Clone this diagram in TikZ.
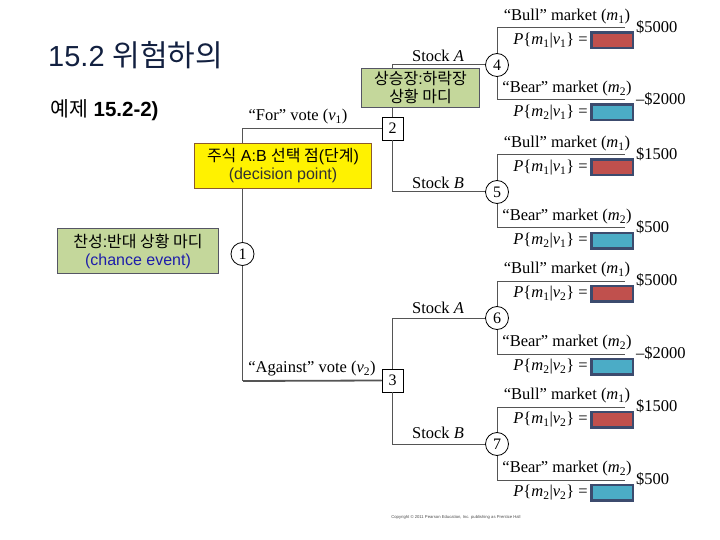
\documentclass[tikz,border=0pt]{standalone}
\usepackage{fontspec}
\setmainfont{Liberation Serif}
\setsansfont{Liberation Sans}
\newfontfamily\kr{Noto Sans CJK KR}

\definecolor{navy}{RGB}{18,32,64}
\definecolor{treeline}{RGB}{85,85,85}
\definecolor{gfill}{RGB}{196,215,155}
\definecolor{gdraw}{RGB}{85,85,100}
\definecolor{ydraw}{RGB}{140,90,45}
\definecolor{rfill}{RGB}{192,80,77}
\definecolor{bfill}{RGB}{75,172,198}
\definecolor{bdraw}{RGB}{60,75,110}
\definecolor{ceblue}{RGB}{30,30,170}

\newcommand\Pm[2]{\textit{P}\{\textit{m}\textsubscript{#1}|\textit{v}\textsubscript{#2}\} =}
\newcommand\Bull{“Bull” market (\textit{m}\textsubscript{1})}
\newcommand\Bear{“Bear” market (\textit{m}\textsubscript{2})}

% #1 name, #2 start anchor, #3 line y, #4 label, #5 P text, #6 fill, #7 value
\newcommand\mkout[7]{%
  \coordinate (#1e) at (625,#3);
  \draw[tree] (#2) |- (#1e);
  \node[lab] (#1l) at (567,#3-11.5) {#4};
  \node[lab, anchor=east] (#1p) at (588,#3+12.5) {#5};
  \node[pbox, fill=#6, anchor=west] (#1b) at (590,#3+12.5) {};
  \node[lab, anchor=west] (#1v) at (636,#3-1) {#7};
}

\tikzset{
  tree/.style={draw=treeline, line width=1pt},
  chance/.style={circle, draw=black, fill=white, line width=0.8pt, minimum size=23pt, inner sep=0pt, font=\fontsize{16}{16}\selectfont},
  decision/.style={rectangle, draw=black, fill=white, line width=0.8pt, minimum width=21pt, minimum height=23pt, inner sep=0pt, font=\fontsize{16}{16}\selectfont},
  lab/.style={inner sep=0pt, font=\fontsize{16.5}{18}\selectfont},
  pbox/.style={draw=bdraw, line width=2.5pt, minimum width=41.5pt, minimum height=15.5pt, inner sep=0pt},
  note/.style={rectangle, align=center, inner sep=0pt, line width=1pt, font=\sffamily\fontsize{16}{18}\selectfont},
}

\begin{document}
\begin{tikzpicture}[x=1pt, y=-1pt]
\useasboundingbox (0,0) rectangle (720,540);

% titles
\node[anchor=base west, inner sep=0pt, text=navy, font=\sffamily\fontsize{29}{31}\selectfont] (title) at (48,67) {15.2 {\kr\fontsize{30}{31}\selectfont 위험하의}};
\node[anchor=base west, inner sep=0pt, font=\sffamily\fontsize{20.5}{22}\selectfont] (ex) at (50,117) {{\kr 예제} \textbf{15.2-2)}};

% tree nodes
\node[chance] (n1) at (242.5,254) {1};
\node[decision] (s2) at (392.5,128.5) {2};
\node[decision] (s3) at (392.5,380.5) {3};
\node[chance] (c4) at (497,65) {4};
\node[chance] (c5) at (497,192) {5};
\node[chance] (c6) at (497,318) {6};
\node[chance] (c7) at (497,444) {7};

% connectors
\draw[tree] (n1.north) |- (s2.west);
\draw[tree] (n1.south) |- (s3.west);
\draw[tree, line width=1.8pt] (243,381) -- (s3.west);
\draw[tree] (s2.north) |- (c4.west);
\draw[tree] (s2.south) |- (c5.west);
\draw[tree] (s3.north) |- (c6.west);
\draw[tree] (s3.south) |- (c7.west);

% branch labels
\node[lab] (lfor) at (298,117) {“For” vote (\textit{v}\textsubscript{1})};
\node[lab] (lag) at (312,369) {“Against” vote (\textit{v}\textsubscript{2})};
\node[lab] (la1) at (438,56) {Stock \textit{A}};
\node[lab] (lb1) at (438,183) {Stock \textit{B}};
\node[lab] (la2) at (438,308) {Stock \textit{A}};
\node[lab] (lb2) at (438,433) {Stock \textit{B}};

% outcomes
\mkout{o4a}{c4.north}{28}{\Bull}{\Pm{1}{1}}{rfill}{\$5000}
\mkout{o4b}{c4.south}{100}{\Bear}{\Pm{2}{1}}{bfill}{–\$2000}
\mkout{o5a}{c5.north}{155}{\Bull}{\Pm{1}{1}}{rfill}{\$1500}
\mkout{o5b}{c5.south}{228}{\Bear}{\Pm{2}{1}}{bfill}{\$500}
\mkout{o6a}{c6.north}{281}{\Bull}{\Pm{1}{2}}{rfill}{\$5000}
\mkout{o6b}{c6.south}{354}{\Bear}{\Pm{2}{2}}{bfill}{–\$2000}
\mkout{o7a}{c7.north}{407}{\Bull}{\Pm{1}{2}}{rfill}{\$1500}
\mkout{o7b}{c7.south}{480}{\Bear}{\Pm{2}{2}}{bfill}{\$500}

% callouts
\node[note, fill=yellow, draw=ydraw, minimum width=177pt, minimum height=45pt] (dec) at (283,166)
  {{\kr 주식} A:B {\kr 선택 점}({\kr 단계})\\[0pt]{\color{black!80}(decision point)}};
\node[note, fill=gfill, draw=gdraw, minimum width=118pt, minimum height=39pt] (mk) at (420.5,88)
  {{\kr 상승장}:{\kr 하락장}\\{\kr 상황 마디}};
\node[note, fill=gfill, draw=gdraw, minimum width=161pt, minimum height=45pt] (ce) at (138,251)
  {{\kr 찬성}:{\kr 반대 상황 마디}\\{\color{ceblue}(chance event)}};

% copyright
\node[inner sep=0pt, text=black!70, font=\sffamily\fontsize{4.2}{5}\selectfont] (copy) at (456,517)
  {Copyright © 2011 Pearson Education, Inc. publishing as Prentice Hall};
\end{tikzpicture}
\end{document}
